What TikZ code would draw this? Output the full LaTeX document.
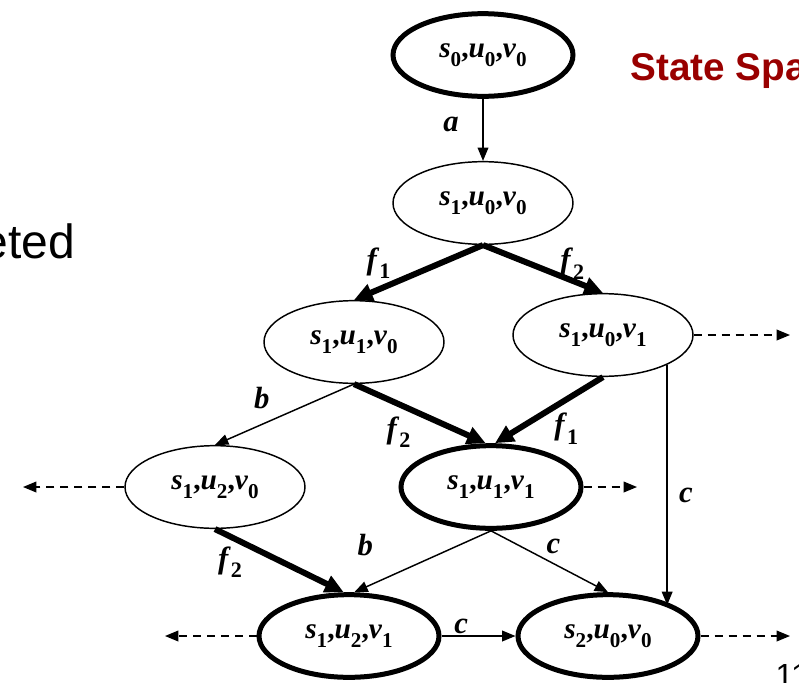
\documentclass[tikz,border=0pt]{standalone}
\usepackage{fontspec}
\setmainfont{Liberation Serif}
\setsansfont{Liberation Sans}
\usepackage{xcolor}
\usetikzlibrary{shapes.geometric, arrows.meta, positioning, calc}
\definecolor{titlered}{RGB}{153, 0, 0}
\newcommand\ix[2]{\textit{#1}\raisebox{-.3em}{\fontsize{.72em}{1em}\selectfont #2}}
\newcommand\stt[3]{\ix{s}{#1},\ix{u}{#2},\ix{v}{#3}}

\begin{document}
\begin{tikzpicture}[x=0.75pt, y=-0.75pt,
    state/.style={ellipse, draw, line width=1.1pt, minimum width=135pt, minimum height=62pt, inner sep=0pt, font=\bfseries\fontsize{22}{26}\selectfont},
    goal/.style={state, line width=3.75pt},
    move/.style={-{Triangle[length=10pt, width=8pt]}, line width=1.1pt},
    fire/.style={-{Triangle[length=14pt, width=13pt]}, line width=4.5pt},
    frontier/.style={move, dash pattern=on 6pt off 4.5pt},
    lbl/.style={font=\bfseries\fontsize{23}{26}\selectfont, inner sep=0pt}
]
    \clip (0,0) rectangle (799,682);

    \node[anchor=base east, font=\sffamily\fontsize{36}{40}\selectfont] (body) at (80,258) {eted};
    \node[anchor=base west, font=\sffamily\bfseries\fontsize{29}{32}\selectfont, text=titlered] (title) at (626,80) {State Spa};
    \node[anchor=base west, font=\sffamily\fontsize{24}{28}\selectfont] (page) at (771,686) {11};

    \node[goal]  (n0) at (483,55)  {\stt{0}{0}{0}};
    \node[state] (n1) at (483,203) {\stt{1}{0}{0}};
    \node[state] (n2) at (354,342) {\stt{1}{1}{0}};
    \node[state] (n3) at (603,335) {\stt{1}{0}{1}};
    \node[state] (n4) at (215,487) {\stt{1}{2}{0}};
    \node[goal]  (n5) at (491,487) {\stt{1}{1}{1}};
    \node[goal]  (n6) at (349,636) {\stt{1}{2}{1}};
    \node[goal]  (n7) at (608,636) {\stt{2}{0}{0}};

    \coordinate (o3) at (790,335);
    \coordinate (o4) at (23,487);
    \coordinate (o5) at (637,487);
    \coordinate (o6) at (165,636);
    \coordinate (o7) at (790,636);

    \draw[move] (n0) -- (n1) node[lbl, midway, xshift=-24pt, yshift=4pt] {\textit{a}};
    \draw[fire] (n1.south) -- (n2.north) node[lbl, midway, xshift=-30pt, yshift=7pt] {\ix{f}{1}};
    \draw[fire] (n1.south) -- (n3.north) node[lbl, midway, xshift=22pt, yshift=4pt] {\ix{f}{2}};
    \draw[move] (n2.south) -- (n4.north) node[lbl, midway, xshift=-17pt, yshift=12pt] {\textit{b}};
    \draw[fire] (n2.south) -- ([xshift=-4pt]n5.north) node[lbl, midway, xshift=-16pt, yshift=-14pt] {\ix{f}{2}};
    \draw[fire] (n3.south) -- ([xshift=3pt]n5.north) node[lbl, midway, xshift=13pt, yshift=-14pt] {\ix{f}{1}};
    \draw[move] (n3.south east) -- (n3.south east |- n7.north east) node[lbl, midway, xshift=14pt, yshift=-8pt] {\textit{c}};
    \draw[fire] (n4.south) -- ([xshift=-4pt]n6.north) node[lbl, midway, xshift=-37pt, yshift=-1pt] {\ix{f}{2}};
    \draw[move] (n5.south) -- ([xshift=4pt]n6.north) node[lbl, midway, xshift=-43pt, yshift=12pt] {\textit{b}};
    \draw[move] (n5.south) -- (n7.north) node[lbl, midway, xshift=3pt, yshift=11pt] {\textit{c}};
    \draw[move] (n6.east) -- (n7.west) node[lbl, midway, xshift=-13pt, yshift=7pt] {\textit{c}};

    \draw[frontier] (n3.east) -- (o3);
    \draw[frontier] (n4.west) -- (o4);
    \draw[frontier] (n5.east) -- (o5);
    \draw[frontier] (n6.west) -- (o6);
    \draw[frontier] (n7.east) -- (o7);
\end{tikzpicture}
\end{document}
